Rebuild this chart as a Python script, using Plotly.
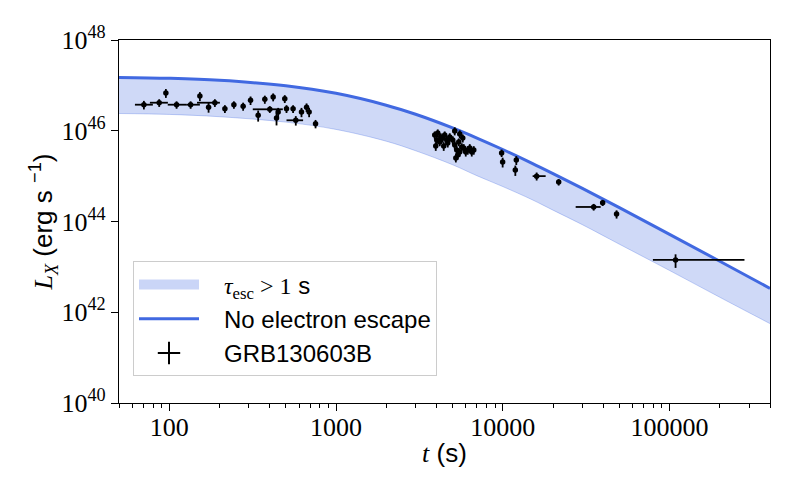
import math
import plotly.graph_objects as go

# Model curves (time in s, luminosity in erg/s)
t_model = [50, 100, 200, 500, 1000, 2000, 3000, 5000, 7000, 1e4, 1.5e4, 2e4,
           3e4, 5e4, 1e5, 2e5, 4e5]
L_no_escape = [1.50e47, 1.43e47, 1.29e47, 9.82e46, 6.68e46, 3.66e46, 2.31e46,
               1.156e46, 6.92e45, 3.86e45, 1.91e45, 1.135e45, 5.35e44, 2.02e44,
               5.22e43, 1.33e43, 3.36e42]
L_band_low = [2.40e46, 2.29e46, 2.04e46, 1.55e46, 1.07e46, 5.89e45, 3.63e45,
              1.78e45, 1.02e45, 5.89e44, 3.02e44, 1.78e44, 8.51e43, 3.16e43,
              8.32e42, 2.14e42, 5.62e41]

# GRB130603B X-ray light curve
t_obs = [70.5, 87.1, 95.5, 110.7, 134.4, 152.7, 172.2, 187.8, 215.7, 244.2,
         277.5, 307.4, 341.5, 374.3, 401, 420, 440, 450, 493, 505,
         553, 574, 621, 666, 690, 754,
         3908, 4074, 4246, 4018, 4188, 4363, 4485, 4612, 4677, 4808,
         3963, 4424, 5012, 5152, 5297, 5370, 5521, 5675, 5754, 5521,
         5834, 5998, 6166, 6339, 6516, 6699, 5445, 5150, 5230,
         9840, 9980, 12050, 11890, 15960, 21630, 35070, 39700, 48100, 108600]
t_err_lo = [8.2, 10.5, 2, 12.7, 6.8, 3, 4, 41, 4, 5,
            5, 6, 6, 6, 84, 7, 7, 7, 8, 8,
            8, 69, 9, 9, 9, 10,
            60, 60, 60, 60, 60, 60, 60, 60, 60, 60,
            60, 60, 70, 70, 70, 70, 80, 80, 80, 80,
            80, 80, 90, 90, 90, 90, 80, 70, 70,
            250, 250, 300, 300, 860, 700, 7720, 800, 1500, 29170]
t_err_hi = [9.3, 11.1, 2, 16.9, 18.3, 3, 4, 13.5, 4, 5,
            5, 6, 6, 6, 79, 7, 7, 7, 8, 8,
            8, 61, 9, 9, 9, 10,
            60, 60, 60, 60, 60, 60, 60, 60, 60, 60,
            60, 60, 70, 70, 70, 70, 80, 80, 80, 80,
            80, 80, 90, 90, 90, 90, 80, 70, 70,
            250, 250, 300, 300, 2110, 700, 3550, 800, 1500, 172600]
L_obs = [3.75e46, 4.15e46, 6.8e46, 3.75e46, 3.75e46, 5.8e46, 3.3e46, 4.15e46, 3.06e46, 3.75e46,
         3.46e46, 4.69e46, 2.19e46, 4.93e46, 2.97e46, 5.54e46, 1.91e46, 2.59e46, 5.08e46, 3.06e46,
         3.06e46, 1.70e46, 2.59e46, 3.3e46, 2.59e46, 1.43e46,
         8.05e45, 8.9e45, 7.3e45, 6.25e45, 5.65e45, 6.9e45, 8.05e45, 6.25e45, 5.37e45, 7.3e45,
         4.6e45, 4.6e45, 6.25e45, 4.85e45, 3.77e45, 2.92e45, 3.4e45, 4.4e45, 6.9e45, 8.5e45,
         4.17e45, 3.4e45, 3.77e45, 4.17e45, 3.4e45, 3.77e45, 5.65e45, 9.9e45, 2.5e45,
         3.24e45, 2.05e45, 2.26e45, 1.36e45, 1.0e45, 7.4e44, 2.09e44, 2.6e44, 1.46e44, 1.42e43]
L_err = [0.8e46, 0.8e46, 1.5e46, 0.7e46, 0.7e46, 1.3e46, 0.8e46, 0.8e46, 0.6e46, 0.7e46,
         0.7e46, 1.0e46, 0.6e46, 1.0e46, 0.5e46, 1.1e46, 0.6e46, 0.6e46, 1.0e46, 0.6e46,
         0.6e46, 0.4e46, 0.6e46, 0.7e46, 0.6e46, 0.3e46,
         1.6e45, 1.8e45, 1.5e45, 1.3e45, 1.1e45, 1.4e45, 1.6e45, 1.3e45, 1.1e45, 1.5e45,
         1.0e45, 1.0e45, 1.3e45, 1.0e45, 0.8e45, 0.6e45, 0.7e45, 0.9e45, 1.4e45, 1.7e45,
         0.9e45, 0.7e45, 0.8e45, 0.9e45, 0.7e45, 0.8e45, 1.1e45, 2.0e45, 0.5e45,
         0.6e45, 0.5e45, 0.5e45, 0.35e45, 0.2e45, 1.2e44, 0.35e44, 0.4e44, 0.3e44, 0.47e43]

x_tickvals = [100, 1000, 10000, 100000]
x_ticktext = ["100", "1000", "10000", "100000"]
y_tickvals = [1e40, 1e42, 1e44, 1e46, 1e48]
y_ticktext = ["10<sup>40</sup>", "10<sup>42</sup>", "10<sup>44</sup>",
              "10<sup>46</sup>", "10<sup>48</sup>"]

SERIF = "Liberation Serif, DejaVu Serif, serif"
SANS = "Liberation Sans, DejaVu Sans, sans-serif"
BLUE = "#4169E1"
BAND = "rgba(65,105,225,0.25)"
BAND_EDGE = "rgba(65,105,225,0.3)"
GAP = "\u00a0\u00a0\u00a0"  # extra room between legend symbol and text

fig = go.Figure()

# band: lower edge first, then upper edge filled down to it
fig.add_trace(go.Scatter(x=t_model, y=L_band_low, mode="lines", line_shape="spline",
                         line=dict(color=BAND_EDGE, width=1),
                         showlegend=False, hoverinfo="skip"))
fig.add_trace(go.Scatter(x=t_model, y=L_no_escape, mode="lines", line_shape="spline",
                         fill="tonexty", fillcolor=BAND,
                         line=dict(color=BAND_EDGE, width=1),
                         showlegend=False, hoverinfo="skip"))
# legend entry for the band, drawn as a thick swatch
fig.add_trace(go.Scatter(x=[None], y=[None], mode="lines", legendgroup="band",
                         line=dict(color="rgba(65,105,225,0.28)", width=20),
                         name=GAP + f"<span style='font-family:{SERIF}'><i>τ</i><sub>esc</sub> > 1</span> s"))
fig.add_trace(go.Scatter(x=t_model, y=L_no_escape, mode="lines", line_shape="spline",
                         legendgroup="line",
                         line=dict(color=BLUE, width=3), name=GAP + "No electron escape"))

fig.add_trace(go.Scatter(
    x=t_obs, y=L_obs, mode="markers",
    marker=dict(color="black", size=5.5),
    error_x=dict(type="data", symmetric=False, array=t_err_hi, arrayminus=t_err_lo,
                 color="black", thickness=1.8, width=0),
    error_y=dict(type="data", array=L_err, color="black", thickness=1.8, width=0),
    showlegend=False))
# legend-only entry that looks like an error-bar cross
fig.add_trace(go.Scatter(x=[None], y=[None], mode="markers", name=GAP + "GRB130603B",
                         legendgroup="data",
                         marker=dict(symbol="cross-thin", size=16, color="black",
                                     line=dict(color="black", width=2))))

fig.update_xaxes(
    type="log", range=[math.log10(50), math.log10(4e5)],
    tickvals=x_tickvals, ticktext=x_ticktext,
    tickfont=dict(family=SERIF, size=26, color="black"),
    ticks="outside", ticklen=7, tickwidth=1.2, tickcolor="black",
    ticklabelstandoff=-6,
    showline=True, linecolor="black", linewidth=1.2, mirror=True,
    showgrid=False, zeroline=False,
    minor=dict(tickvals=[m * 10 ** e for e in range(1, 6) for m in range(2, 10)],
               ticks="outside", ticklen=4, tickwidth=1, tickcolor="black", showgrid=False),
    title=dict(text=f"<span style='font-family:{SERIF}'><i>t</i></span> (s)",
               font=dict(family=SANS, size=26, color="black"), standoff=2),
)
fig.update_yaxes(
    type="log", range=[40, 48],
    tickvals=y_tickvals, ticktext=y_ticktext,
    tickfont=dict(family=SERIF, size=26, color="black"),
    ticks="outside", ticklen=7, tickwidth=1.2, tickcolor="black",
    showline=True, linecolor="black", linewidth=1.2, mirror=True,
    showgrid=False, zeroline=False,
    title=dict(text=f"<span style='font-family:{SERIF}'><i>L</i><sub><i>X</i></sub></span> (erg s <sup>−1</sup>)",
               font=dict(family=SANS, size=26, color="black"), standoff=0),
)

# margins allow for the 8px page margin of the html body
fig.update_layout(
    width=800, height=500,
    margin=dict(l=111, r=38, t=32, b=105),
    plot_bgcolor="white", paper_bgcolor="white",
    legend=dict(x=0.0215, y=0.39, xanchor="left", yanchor="top", traceorder="normal",
                tracegroupgap=3,
                bgcolor="rgba(255,255,255,0.8)", bordercolor="#cccccc", borderwidth=1,
                font=dict(family=SANS, size=24, color="black"), itemwidth=60),
)

fig.write_html("out.html")
